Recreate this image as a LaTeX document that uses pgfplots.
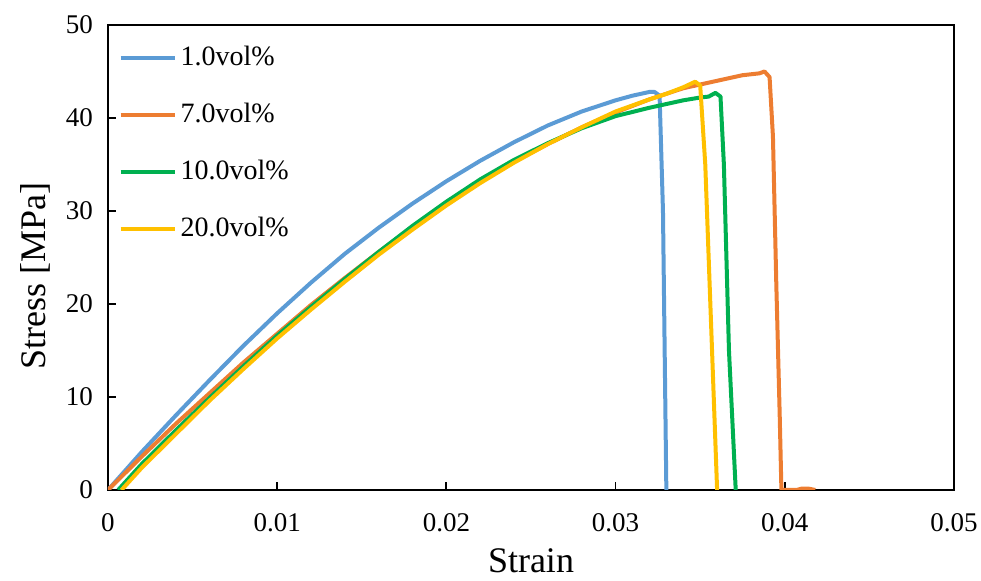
\documentclass[border=0pt]{standalone}
\usepackage{pgfplots}
\pgfplotsset{compat=1.18}
\usepackage{fontspec}
\setmainfont{Liberation Serif}
\definecolor{cblue}{HTML}{5B9BD5}
\definecolor{corange}{HTML}{ED7D31}
\definecolor{cgreen}{HTML}{00B050}
\definecolor{cyellow}{HTML}{FFC000}
\begin{document}
\begin{tikzpicture}
\useasboundingbox (-54pt,-45.5pt) rectangle (436.5pt,245pt);
\begin{axis}[
  scale only axis,
  width=423pt, height=232.5pt,
  xmin=0, xmax=0.05, ymin=0, ymax=50,
  scaled x ticks=false,
  xtick={0,0.01,0.02,0.03,0.04,0.05},
  xticklabels={0,0.01,0.02,0.03,0.04,0.05},
  ytick={0,10,20,30,40,50},
  yticklabels={0,10,20,30,40,50},
  tick align=inside,
  xtick pos=bottom, ytick pos=left,
  major tick length=4pt,
  axis line style={line width=1pt},
  every tick/.style={black, line width=0.9pt},
  tick label style={font=\fontsize{13.5}{15}\selectfont},
  /pgf/number format/assume math mode=true,
  xticklabel style={yshift=-8pt},
  yticklabel style={xshift=-4pt},
  xlabel={Strain}, ylabel={Stress [MPa]},
  label style={font=\fontsize{18}{21}\selectfont},
  xlabel style={yshift=-2pt},
  ylabel style={at={(ticklabel cs:0.46)}, yshift=1pt},
  legend style={at={(0.005,0.972)}, anchor=north west, draw=none, fill=none,
    font=\fontsize{14}{16}\selectfont, row sep=13.3pt,
    legend cell align=left},
  legend image code/.code={\draw[#1, line width=2pt] (0pt,0pt) -- (27pt,0pt);},
  every axis plot/.append style={line width=2pt, line join=round},
]
\addplot[cblue] coordinates {
(0,0) (0.002,4.1) (0.004,8.0) (0.006,11.8) (0.008,15.5) (0.010,19.0)
(0.012,22.3) (0.014,25.4) (0.016,28.2) (0.018,30.8) (0.020,33.2)
(0.022,35.4) (0.024,37.4) (0.026,39.2) (0.028,40.7) (0.030,41.9)
(0.031,42.4) (0.032,42.8) (0.0323,42.8) (0.0326,42.4) (0.0328,30)
(0.0329,15) (0.0330,0)
};
\addlegendentry{1.0vol\%}
\addplot[corange] coordinates {
(0,0) (0.002,3.6) (0.004,7.1) (0.006,10.4) (0.008,13.7) (0.010,16.8)
(0.012,19.9) (0.014,22.8) (0.016,25.6) (0.018,28.3) (0.020,30.9)
(0.022,33.2) (0.024,35.3) (0.026,37.2) (0.028,39.0) (0.030,40.6)
(0.032,42.0) (0.034,43.2) (0.036,44.0) (0.0375,44.6) (0.0385,44.8)
(0.0388,45.0) (0.0391,44.4) (0.0393,38) (0.0395,22) (0.0397,8)
(0.0398,0) (0.0407,0) (0.0410,0.15) (0.0414,0.15) (0.0418,0)
};
\addlegendentry{7.0vol\%}
\addplot[cgreen] coordinates {
(0.0006,0) (0.002,2.8) (0.004,6.4) (0.006,9.9) (0.008,13.3) (0.010,16.6)
(0.012,19.7) (0.014,22.7) (0.016,25.6) (0.018,28.4) (0.020,31.0)
(0.022,33.4) (0.024,35.5) (0.026,37.3) (0.028,38.9) (0.030,40.2)
(0.032,41.1) (0.034,41.9) (0.035,42.2) (0.0355,42.3) (0.0359,42.7)
(0.0362,42.3) (0.0364,35) (0.0367,15) (0.0371,0)
};
\addlegendentry{10.0vol\%}
\addplot[cyellow] coordinates {
(0.0008,0) (0.002,2.4) (0.004,6.0) (0.006,9.6) (0.008,13.0) (0.010,16.3)
(0.012,19.4) (0.014,22.4) (0.016,25.3) (0.018,28.0) (0.020,30.6)
(0.022,33.0) (0.024,35.2) (0.026,37.2) (0.028,39.0) (0.030,40.7)
(0.032,42.0) (0.033,42.6) (0.034,43.3) (0.0347,43.9) (0.0350,43.5)
(0.0353,35) (0.0357,15) (0.0360,0)
};
\addlegendentry{20.0vol\%}
\end{axis}
\end{tikzpicture}
\end{document}
